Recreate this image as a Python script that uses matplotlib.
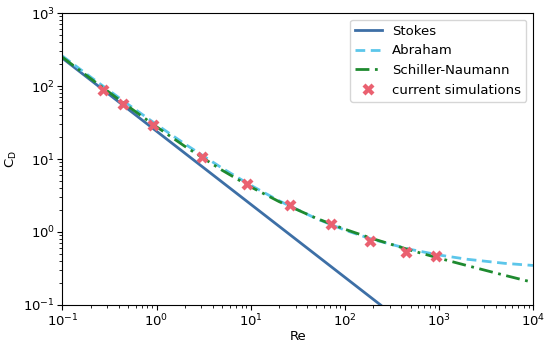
import matplotlib
matplotlib.use('Agg')
import matplotlib.pyplot as plt

# curves
re_curve = [0.1, 0.2, 0.5, 1, 2, 5, 10, 20, 50, 100, 200, 500, 1000, 2000, 5000, 10000]
abraham = [257, 132.2, 55.8, 29.6, 16.04, 7.46, 4.37, 2.68, 1.522, 1.062, 0.787, 0.577,
           0.484, 0.423, 0.372, 0.348]
schiller = [247.4, 126.0, 52.5, 27.6, 14.9, 6.98, 4.15, 2.61, 1.538, 1.092, 0.806, 0.563,
            0.438, 0.346, 0.255, 0.204]
re_stokes = [0.1, 240]
stokes = [240, 0.1]

# simulation points
re_sim = [0.272, 0.445, 0.925, 3.06, 9.2, 26.3, 71.8, 186, 445, 942]
cd_sim = [89, 57, 29.6, 10.8, 4.5, 2.37, 1.28, 0.748, 0.534, 0.462]

fig = plt.figure(figsize=(5.5, 3.48), dpi=100)
ax = fig.add_axes([0.1136, 0.1236, 0.8555, 0.8390])

ax.plot(re_stokes, stokes, color='#3d6fa6', lw=2, label='Stokes')
ax.plot(re_curve, abraham, color='#5cc6ea', lw=2, ls=(0, (3.5, 2)), label='Abraham')
ax.plot(re_curve, schiller, color='#1e8a2f', lw=2, ls=(0, (5, 2, 1, 2)), label='Schiller-Naumann')
ax.plot(re_sim, cd_sim, ls='none', marker='X', ms=8, color='#ea6170', mec='none',
        label='current simulations')

ax.set_xscale('log')
ax.set_yscale('log')
ax.set_xlim(0.1, 1e4)
ax.set_ylim(0.1, 1e3)
ax.set_xlabel('Re', fontsize=9.5)
ax.set_ylabel(r'C$_\mathrm{D}$', fontsize=9.5)
ax.xaxis.set_label_coords(0.5, -0.085)
ax.yaxis.set_label_coords(-0.093, 0.5)
ax.tick_params(labelsize=9.5, pad=2)
ax.legend(loc='upper right', fontsize=9.5)

fig.savefig('out.png', dpi=100)
